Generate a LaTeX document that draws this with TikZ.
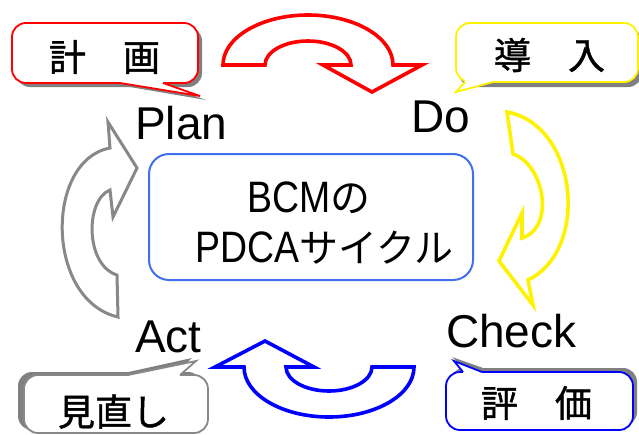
\documentclass[tikz,border=0pt]{standalone}
\usepackage{fontspec}
\setmainfont{Liberation Sans}
\newfontfamily\cjk{Noto Sans CJK JP}
\newfontfamily\cjkheavy[FakeBold=1.2]{Noto Sans CJK JP}
\newfontfamily\latc[FakeStretch=0.85]{Liberation Sans}
\definecolor{boxblue}{RGB}{64,112,240}
\definecolor{shadowgray}{RGB}{128,128,128}
\definecolor{arrowgray}{RGB}{136,136,136}
\tikzset{
  cyclearrow/.style={line width=3.6pt, fill=white, line join=miter},
  calloutbox/.style={line width=1.8pt, fill=white, rounded corners=14pt},
  calloutshadow/.style={fill=shadowgray, rounded corners=14pt},
  tailedge/.style={line width=1.8pt, line join=miter},
  pdca/.style={inner sep=0pt, anchor=base west, font=\fontsize{46}{50}\selectfont},
  jlabel/.style={inner sep=0pt, font=\cjkheavy\fontsize{37}{40}\selectfont},
}
\begin{document}
\begin{tikzpicture}[x=1pt,y=-1pt]
\useasboundingbox (0,0) rectangle (639,434);
\clip (0,0) rectangle (639,434);

% ---------- callout: 計画 (red) ----------
\fill[calloutshadow] (16,27) rectangle (202,87);
\fill[shadowgray] (124,86) -- (206,100) -- (167,86) -- cycle;
\draw[calloutbox, draw=red] (12,23) rectangle (198,83);
\fill[white] (120,80) -- (120,83) -- (200,96) -- (163,83) -- (163,80) -- cycle;
\draw[tailedge, red] (120,83) -- (200,96) -- (163,83);
\node[jlabel] (keikaku) at (104.5,57) {計　画};

% ---------- callout: 導入 (yellow) ----------
\fill[calloutshadow] (459,28) rectangle (642,87);
\draw[calloutbox, draw=yellow] (456,23) rectangle (638,82);
\fill[white] (465,79) -- (465,82) -- (456,92) -- (493,82) -- (493,79) -- cycle;
\draw[tailedge, yellow] (465,82) -- (456,92) -- (493,82);
\node[jlabel] (dounyuu) at (549.5,55) {導　入};

% ---------- callout: 評価 (blue) ----------
\fill[calloutshadow] (450,368) rectangle (637,426);
\fill[shadowgray] (466,369) -- (452,357) -- (486,369) -- cycle;
\draw[calloutbox, draw=blue] (446,372) rectangle (633,430);
\fill[white] (463,375) -- (463,372) -- (454,361) -- (482,372) -- (482,375) -- cycle;
\draw[tailedge, blue] (463,372) -- (454,361) -- (482,372);
\node[jlabel] (hyouka) at (536.5,403) {評　価};

% ---------- callout: 見直し (gray) ----------
\fill[calloutshadow] (18,372) rectangle (202,430);
\fill[shadowgray] (124,373) -- (192,358) -- (176,373) -- cycle;
\draw[calloutbox, draw=arrowgray] (24,375) rectangle (208,433);
\fill[white] (128,378) -- (128,375) -- (196,361) -- (180,375) -- (180,378) -- cycle;
\draw[tailedge, arrowgray] (128,375) -- (196,361) -- (180,375);
\node[jlabel] (minaoshi) at (113.5,411.5) {見直し};

% ---------- red arrow (Plan -> Do) ----------
\begin{scope}[shift={(308,65)}]
\draw[cyclearrow, draw=red] (-85,0)
  arc[start angle=180, end angle=360, x radius=85, y radius=50]
  -- (114,0) -- (64,27) -- (15,0) -- (43,0)
  arc[start angle=360, end angle=180, x radius=43, y radius=24] -- cycle;
\end{scope}

% ---------- blue arrow (Check -> Act) ----------
\begin{scope}[shift={(329,367)}, rotate=180]
\draw[cyclearrow, draw=blue] (-85,0)
  arc[start angle=180, end angle=360, x radius=85, y radius=50]
  -- (114,0) -- (64,26) -- (15,0) -- (43,0)
  arc[start angle=360, end angle=180, x radius=43, y radius=24] -- cycle;
\end{scope}

% ---------- yellow arrow (Do -> Check) ----------
\draw[cyclearrow, draw=yellow] (507,112) -- (513,154)
  .. controls (545,165) and (555,228) .. (522,238)
  -- (522,213) -- (499,261) -- (533,305) -- (528,280)
  .. controls (590,250) and (578,125) .. (507,112) -- cycle;

% ---------- gray arrow (Act -> Plan) ----------
\draw[cyclearrow, line width=3pt, draw=arrowgray] (118,317) -- (117,275)
  .. controls (85,265) and (85,200) .. (110,190)
  -- (113,217) -- (137,168) -- (108,122) -- (110,148)
  .. controls (45,160) and (45,300) .. (118,317) -- cycle;

% ---------- center box ----------
\node[draw=boxblue, line width=2pt, rounded corners=20pt, fill=white,
      minimum width=324pt, minimum height=126pt, inner sep=0pt] (core) at (311,217) {};
\node[inner sep=0pt, anchor=base west] (line1) at (247,212)
  {\latc\fontsize{44}{48}\selectfont BCM\cjk\fontsize{40}{48}\selectfont の};
\node[inner sep=0pt, anchor=base west] (line2) at (195,262)
  {\latc\fontsize{44}{48}\selectfont PDCA\cjk\fontsize{39}{48}\selectfont サイクル};

% ---------- PDCA labels ----------
\node[pdca] (plan) at (135,139) {Plan};
\node[pdca] (do) at (411,132) {Do};
\node[pdca] (check) at (446,347) {Check};
\node[pdca] (act) at (135,352) {Act};
\end{tikzpicture}
\end{document}
